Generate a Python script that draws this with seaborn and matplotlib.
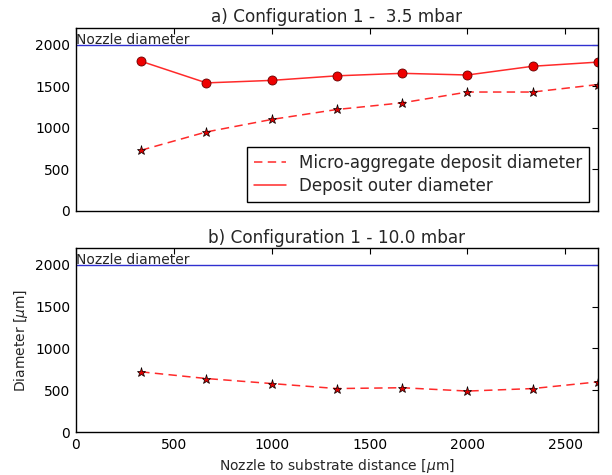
import matplotlib
matplotlib.use("Agg")
import matplotlib.pyplot as plt
import seaborn as sns
import pandas as pd
from matplotlib.lines import Line2D

distance = [333.3, 666.7, 1000.0, 1333.3, 1666.7, 2000.0, 2333.3, 2666.7]
outer_35 = [1800, 1540, 1570, 1625, 1655, 1635, 1740, 1790]
micro_35 = [730, 950, 1100, 1220, 1300, 1430, 1430, 1520]
micro_100 = [720, 640, 580, 520, 530, 490, 520, 600]
nozzle = 2000
titles = ["a) Configuration 1 -  3.5 mbar", "b) Configuration 1 - 10.0 mbar"]
legend_labels = ["Micro-aggregate deposit diameter", "Deposit outer diameter"]

sns.set_style("white")
plt.rcParams['font.family'] = ['DejaVu Sans']
plt.rcParams.update({
    "xtick.direction": "in", "ytick.direction": "in",
    "xtick.top": True, "ytick.right": True,
    "xtick.major.size": 4, "ytick.major.size": 4,
    "axes.edgecolor": "black", "axes.linewidth": 1.0,
})

fig = plt.figure(figsize=(6.12, 4.75), dpi=100)
ax1 = fig.add_axes([0.124, 0.556, 0.853, 0.385])
ax2 = fig.add_axes([0.124, 0.0905, 0.853, 0.387])

df35 = pd.DataFrame({"x": distance, "outer": outer_35, "micro": micro_35})
df10 = pd.DataFrame({"x": distance, "micro": micro_100})

dash = (0, (5.5, 3.5))
red = "#ff2a2a"

for ax in (ax1, ax2):
    ax.axhline(nozzle, color="#3030d0", lw=1.0)
    ax.text(0, nozzle + 5, "Nozzle diameter", fontsize=10, va="baseline", ha="left")

sns.lineplot(data=df35, x="x", y="micro", ax=ax1, color=red, lw=1.1,
             linestyle=dash, marker="*", markersize=6.5,
             markerfacecolor="#dd0000", markeredgecolor="black", markeredgewidth=0.5)
sns.lineplot(data=df35, x="x", y="outer", ax=ax1, color=red, lw=1.1,
             marker="o", markersize=6.5, markerfacecolor="#ee0000",
             markeredgecolor="#660000", markeredgewidth=0.6)
sns.lineplot(data=df10, x="x", y="micro", ax=ax2, color=red, lw=1.1,
             linestyle=dash, marker="*", markersize=6.5,
             markerfacecolor="#dd0000", markeredgecolor="black", markeredgewidth=0.5)

handles = [Line2D([], [], color=red, lw=1.1, linestyle=dash),
           Line2D([], [], color=red, lw=1.1)]
leg = ax1.legend(handles, legend_labels, loc="lower right", fontsize=12,
                 frameon=True, fancybox=False, edgecolor="black", framealpha=1,
                 borderpad=0.4, handlelength=1.9, handletextpad=0.8,
                 labelspacing=0.3, borderaxespad=0.55)
leg.get_frame().set_linewidth(1.0)

for ax, t in zip((ax1, ax2), titles):
    ax.set_xlim(0, 8000 / 3)
    ax.set_ylim(0, 2200)
    ax.set_xticks([0, 500, 1000, 1500, 2000, 2500])
    ax.set_yticks([0, 500, 1000, 1500, 2000])
    ax.set_title(t, fontsize=12.2, pad=4)
    ax.tick_params(labelsize=10, colors="black", pad=4)

ax1.set_xticklabels([])
ax1.set_xlabel("")
ax1.set_ylabel("")
ax2.set_xlabel(r"Nozzle to substrate distance [$\mu$m]", fontsize=10)
ax2.set_ylabel(r"Diameter [$\mu$m]", fontsize=10)

fig.savefig("out.png", dpi=100)
